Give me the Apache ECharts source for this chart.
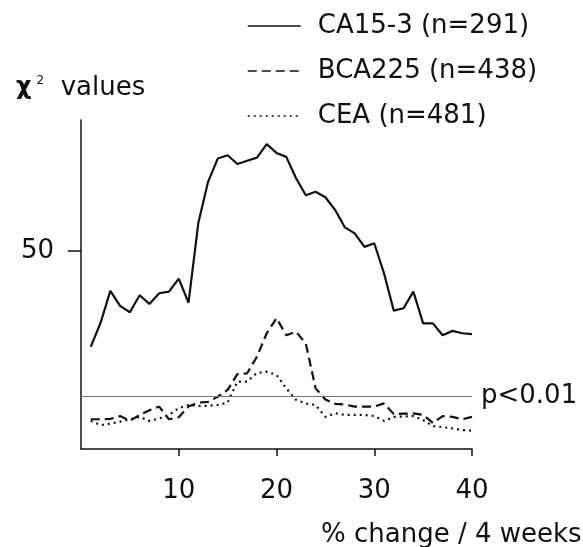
<!DOCTYPE html>
<html>
<head>
<meta charset="utf-8">
<script src="https://cdn.jsdelivr.net/npm/echarts@6/dist/echarts.min.js"></script>
<style>
  html, body { margin: 0; padding: 0; background: #fff; }
  #chart { width: 583px; height: 547px; }
</style>
</head>
<body>
<div id="chart"></div>
<script>
const xValues = [1, 2, 3, 4, 5, 6, 7, 8, 9, 10, 11, 12, 13, 14, 15, 16, 17, 18, 19, 20,
  21, 22, 23, 24, 25, 26, 27, 28, 29, 30, 31, 32, 33, 34, 35, 36, 37, 38, 39, 40];
const ca153 = [25.8, 31.8, 39.9, 36.1, 34.5, 38.8, 36.6, 39.3, 39.7, 43.0,
  36.9, 57.0, 67.4, 73.3, 74.1, 71.9, 72.7, 73.5, 76.9, 74.7,
  73.7, 68.3, 64.0, 64.9, 63.5, 60.3, 55.9, 54.4, 51.0, 51.9,
  44.3, 34.9, 35.5, 39.7, 31.7, 31.7, 28.7, 29.8, 29.2, 29.0];
const bca225 = [7.5, 7.5, 7.6, 8.3, 7.1, 8.6, 9.8, 10.7, 7.5, 8.0,
  10.7, 11.7, 11.9, 13.2, 14.9, 18.9, 19.1, 23.3, 29.2, 33.0,
  28.7, 29.6, 26.6, 15.3, 12.5, 11.4, 11.2, 10.7, 10.7, 10.7,
  11.5, 8.8, 8.9, 9.0, 8.6, 6.6, 8.3, 8.1, 7.5, 8.1];
const cea = [7.1, 6.0, 6.4, 6.9, 7.5, 8.1, 7.1, 7.7, 8.6, 10.3,
  11.1, 10.9, 10.9, 11.1, 11.7, 17.0, 17.0, 19.2, 19.5, 18.7,
  15.3, 12.4, 11.5, 11.1, 8.1, 9.0, 8.6, 8.6, 8.6, 8.3,
  7.1, 8.1, 8.2, 8.3, 7.3, 5.8, 5.5, 5.2, 4.8, 4.6];
const seriesNames = ["CA15-3 (n=291)", "BCA225 (n=438)", "CEA (n=481)"];
const xTicks = [10, 20, 30, 40];
const yTicks = [50];
const pThreshold = 13.2;

const FONT = "DejaVu Sans";
const chart = echarts.init(document.getElementById("chart"));

function pairs(ys) {
  return xValues.map((x, i) => [x, ys[i]]);
}

chart.setOption({
  animation: false,
  backgroundColor: "#fff",
  textStyle: { fontFamily: FONT, color: "#111" },
  title: [
    {
      text: "{chi|χ}{sup|2}{txt|  values}",
      left: 11, top: 70,
      textStyle: {
        rich: {
          chi: { fontFamily: FONT, fontSize: 24, fontWeight: "bold", color: "#111" },
          sup: { fontFamily: FONT, fontSize: 12, fontWeight: "normal", color: "#111", verticalAlign: "top", padding: [0, 0, 10, 5] },
          txt: { fontFamily: FONT, fontSize: 26, fontWeight: "normal", color: "#111" },
        },
      },
    },
    {
      text: "% change / 4 weeks",
      left: 316, top: 517,
      textStyle: { fontFamily: FONT, fontSize: 26, fontWeight: "normal", color: "#111" },
    },
  ],
  legend: {
    orient: "vertical",
    left: 242, top: 8,
    itemWidth: 53, itemHeight: 10,
    itemGap: 19,
    data: seriesNames,
    itemStyle: { color: "transparent", borderColor: "transparent", borderWidth: 0 },
    lineStyle: { width: 1.5 },
    textStyle: { fontFamily: FONT, fontSize: 26, color: "#111", padding: [0, 0, 0, 12] },
  },
  grid: { left: 81, right: 111, top: 120, bottom: 98 },
  xAxis: {
    type: "value", min: 0, max: 40,
    splitLine: { show: false },
    axisLine: { lineStyle: { color: "#111", width: 1.5 } },
    axisTick: { customValues: xTicks, length: 7, lineStyle: { color: "#111", width: 1.5 } },
    axisLabel: { customValues: xTicks, margin: 29, fontFamily: FONT, fontSize: 26, color: "#111" },
  },
  yAxis: {
    type: "value", min: 0, max: 83,
    splitLine: { show: false },
    axisLine: { show: true, lineStyle: { color: "#111", width: 1.5 } },
    axisTick: { show: true, customValues: yTicks, length: 13, lineStyle: { color: "#111", width: 1.5 } },
    axisLabel: { customValues: yTicks, margin: 27, fontFamily: FONT, fontSize: 26, color: "#111" },
  },
  series: [
    {
      name: seriesNames[0], type: "line", data: pairs(ca153),
      symbol: "none", lineStyle: { color: "#111", width: 2.2, type: "solid" }, itemStyle: { color: "#111" },
      markLine: {
        silent: true, symbol: "none",
        lineStyle: { color: "#777", width: 1, type: "solid" },
        label: { position: "end", formatter: "p<0.01", fontFamily: FONT, fontSize: 26, color: "#111", distance: 9 },
        data: [{ yAxis: pThreshold }],
      },
    },
    {
      name: seriesNames[1], type: "line", data: pairs(bca225),
      symbol: "none", lineStyle: { color: "#111", width: 2.2, type: [9, 5] }, itemStyle: { color: "#111" },
    },
    {
      name: seriesNames[2], type: "line", data: pairs(cea),
      symbol: "none", lineStyle: { color: "#111", width: 2.2, type: [2, 4] }, itemStyle: { color: "#111" },
    },
  ],
});
</script>
</body>
</html>
